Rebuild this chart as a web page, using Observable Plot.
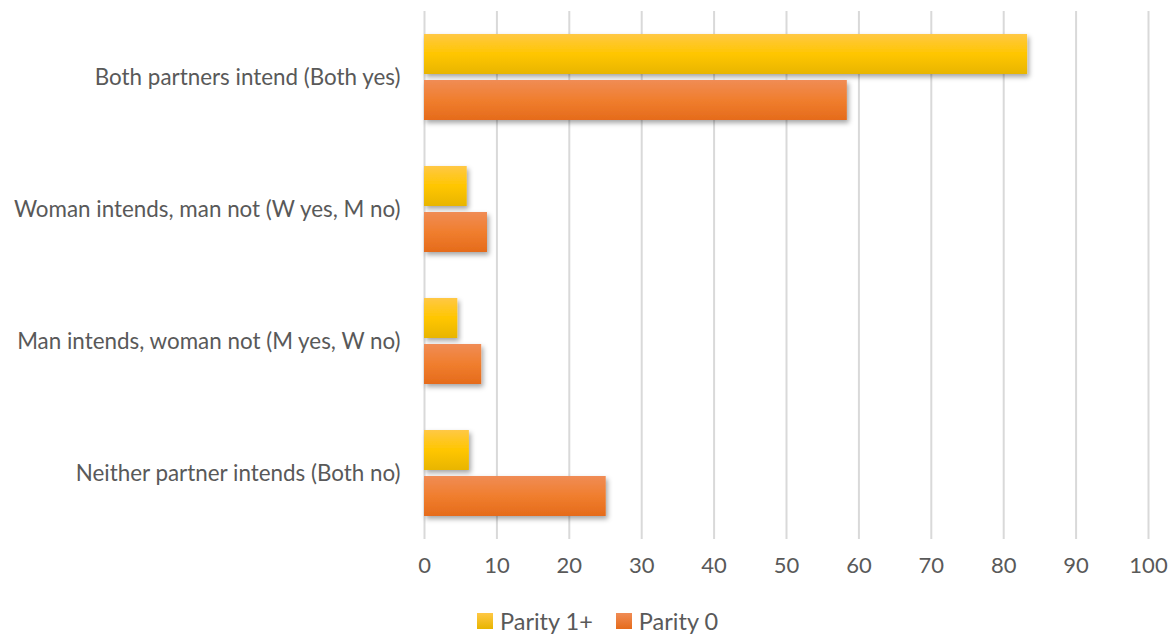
<!DOCTYPE html>
<html>
<head>
<meta charset="utf-8">
<script src="https://cdn.jsdelivr.net/npm/d3@7"></script>
<script src="https://cdn.jsdelivr.net/npm/@observablehq/plot@0.6"></script>
<style>
  body { margin: 0; background: #fff; font-family: Lato, "Open Sans", sans-serif; }
  #wrap { position: relative; width: 1175px; height: 635px; }
  #legend { position: absolute; left: 477px; top: 607px; display: flex; align-items: center; font-size: 23.5px; color: #595959; }
  .item { display: flex; align-items: center; margin-right: 23px; }
  .sw { width: 16px; height: 16px; margin-right: 7px; }
</style>
</head>
<body>
<div id="wrap">
  <div id="chart"></div>
  <div id="legend"></div>
</div>
<script>
const categories = [
  "Both partners intend (Both yes)",
  "Woman intends, man not (W yes, M no)",
  "Man intends, woman not (M yes, W no)",
  "Neither partner intends (Both no)"
];
const series = ["Parity 1+", "Parity 0"];
const parity1 = [83.3, 5.9, 4.6, 6.2];
const parity0 = [58.4, 8.7, 7.9, 25.1];
const xTicks = [0, 10, 20, 30, 40, 50, 60, 70, 80, 90, 100];
const gradIds = ["gYellow", "gOrange"];

const rows = [];
categories.forEach((c, i) => {
  rows.push({category: c, series: series[0], value: parity1[i]});
  rows.push({category: c, series: series[1], value: parity0[i]});
});

const chart = Plot.plot({
  width: 1175,
  height: 590,
  marginLeft: 424,
  marginRight: 27,
  marginTop: 10,
  marginBottom: 50,
  style: {fontFamily: "Lato, 'Open Sans', sans-serif", fontSize: "22px", color: "#595959", background: "#fff"},
  x: {domain: [0, 100], axis: null},
  fy: {domain: categories, padding: 0, label: null, axis: null},
  y: {domain: series, paddingInner: 0.13, paddingOuter: 0.47, axis: null},
  color: {domain: series, range: gradIds.map(id => `url(#${id})`)},
  marks: [
    Plot.gridX(xTicks, {stroke: "#d9d9d9", strokeOpacity: 1, strokeWidth: 2}),
    Plot.barX(rows, {x: "value", y: "series", fy: "category", fill: "series", className: "bars"}),
    Plot.axisX(xTicks, {tickSize: 0, tickPadding: 18, label: null, fontSize: 22}),
    Plot.axisFy({tickSize: 0, tickPadding: 24, label: null, fontSize: 22.4, anchor: "left"})
  ]
});

const svg = d3.select(chart);
const defs = svg.insert("defs", ":first-child");
function grad(id, stops) {
  const g = defs.append("linearGradient").attr("id", id).attr("x1", 0).attr("y1", 0).attr("x2", 0).attr("y2", 1);
  stops.forEach(([o, c]) => g.append("stop").attr("offset", o).attr("stop-color", c));
}
grad("gYellow", [[0, "#FFC845"], [0.5, "#FFC600"], [1, "#E8B500"]]);
grad("gOrange", [[0, "#F08C55"], [0.5, "#F07E2E"], [1, "#E56B1B"]]);
const f = defs.append("filter").attr("id", "shadow").attr("x", "-10%").attr("y", "-20%").attr("width", "130%").attr("height", "160%");
f.append("feDropShadow").attr("dx", 2).attr("dy", 3).attr("stdDeviation", 2.5).attr("flood-color", "#000").attr("flood-opacity", 0.35);
svg.selectAll("rect").filter(function() { const fl = this.getAttribute("fill") || ""; return fl.startsWith("url("); }).attr("filter", "url(#shadow)");

document.getElementById("chart").appendChild(chart);

const legend = document.getElementById("legend");
series.forEach((s, i) => {
  const item = document.createElement("div");
  item.className = "item";
  item.innerHTML = `<svg class="sw" width="16" height="16"><defs><linearGradient id="lg${i}" x1="0" y1="0" x2="0" y2="1">${i === 0 ? '<stop offset="0" stop-color="#FFC845"/><stop offset="1" stop-color="#E8B500"/>' : '<stop offset="0" stop-color="#F08C55"/><stop offset="1" stop-color="#E56B1B"/>'}</linearGradient></defs><rect width="16" height="16" fill="url(#lg${i})"/></svg><span>${s}</span>`;
  legend.appendChild(item);
});
</script>
</body>
</html>
